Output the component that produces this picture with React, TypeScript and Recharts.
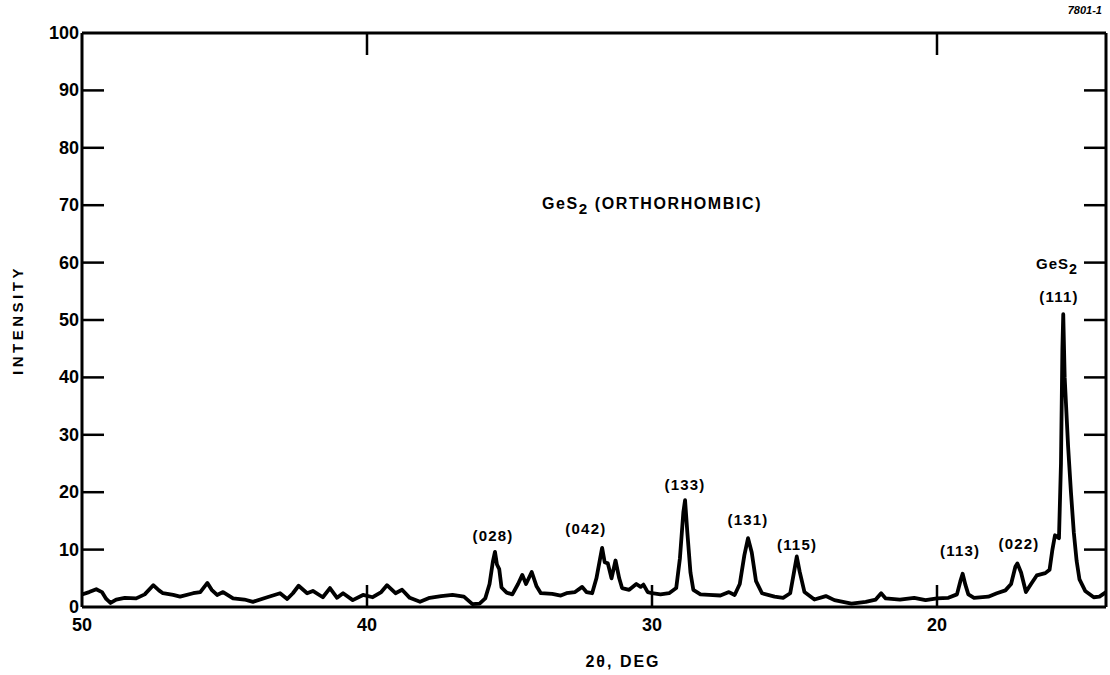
import React from "react";
import { LineChart, Line, XAxis, YAxis, ReferenceDot } from "recharts";

// 2-theta (deg) and intensity, high angle to low angle
const twoTheta = [
  50.0, 49.75, 49.5, 49.3, 49.15, 49.0, 48.8, 48.5, 48.1, 47.8, 47.5, 47.3, 47.16, 46.8, 46.56, 46.1,
  45.85, 45.6, 45.45, 45.26, 45.05, 44.7, 44.3, 44.0, 43.5, 43.05, 42.8, 42.6, 42.4, 42.1, 41.9, 41.55,
  41.3, 41.05, 40.84, 40.5, 40.14, 39.8, 39.5, 39.3, 39.0, 38.77, 38.5, 38.14, 37.8, 37.4, 37.0, 36.6,
  36.3, 36.05, 35.85, 35.7, 35.58, 35.51, 35.44, 35.36, 35.28, 35.1, 34.9, 34.7, 34.55, 34.42, 34.22,
  34.05, 33.9, 33.5, 33.2, 33.0, 32.7, 32.45, 32.3, 32.1, 31.95, 31.8, 31.75, 31.66, 31.55, 31.42,
  31.28, 31.15, 31.05, 30.8, 30.55, 30.4, 30.3, 30.15, 30.0, 29.7, 29.4, 29.15, 29.02, 28.9, 28.84,
  28.76, 28.65, 28.55, 28.3, 28.0, 27.6, 27.3, 27.1, 26.92, 26.76, 26.63, 26.5, 26.35, 26.14, 25.7,
  25.4, 25.15, 25.02, 24.92, 24.82, 24.65, 24.3, 23.9, 23.6, 23.0, 22.5, 22.15, 21.96, 21.8, 21.3,
  20.8, 20.4, 20.0, 19.6, 19.3, 19.18, 19.1, 19.0, 18.9, 18.7, 18.2, 17.9, 17.6, 17.4, 17.25, 17.18,
  17.05, 16.88, 16.7, 16.5, 16.2, 16.05, 15.95, 15.86, 15.72, 15.65, 15.6, 15.57, 15.52, 15.4, 15.3,
  15.2, 15.1, 15.0, 14.8, 14.5, 14.3, 14.07,
];
const intensity = [
  2.2, 2.6, 3.1, 2.6, 1.4, 0.7, 1.3, 1.6, 1.5, 2.2, 3.8, 2.9, 2.4, 2.1, 1.8, 2.4,
  2.6, 4.2, 3.0, 2.1, 2.6, 1.5, 1.3, 0.9, 1.7, 2.4, 1.4, 2.4, 3.7, 2.4, 2.8, 1.7,
  3.3, 1.6, 2.4, 1.2, 2.1, 1.7, 2.6, 3.8, 2.4, 3.0, 1.6, 0.9, 1.6, 1.9, 2.1, 1.8,
  0.5, 0.6, 1.5, 4.0, 8.0, 9.6, 7.4, 6.6, 3.4, 2.5, 2.2, 4.0, 5.6, 4.0, 6.1,
  3.6, 2.4, 2.3, 2.0, 2.4, 2.6, 3.5, 2.6, 2.4, 5.0, 9.0, 10.3, 7.8, 7.6, 5.0,
  8.1, 5.0, 3.3, 3.0, 4.0, 3.5, 3.9, 2.6, 2.4, 2.2, 2.4, 3.3, 8.5, 16.5, 18.6,
  13.0, 6.0, 3.0, 2.2, 2.1, 2.0, 2.6, 2.1, 4.0, 9.0, 12.0, 9.5, 4.5, 2.4, 1.8,
  1.6, 2.4, 6.0, 8.8, 6.2, 2.6, 1.3, 1.9, 1.2, 0.6, 0.9, 1.3, 2.4, 1.5, 1.3,
  1.6, 1.2, 1.5, 1.6, 2.2, 4.5, 5.8, 3.8, 2.2, 1.6, 1.8, 2.4, 2.9, 4.0, 7.0, 7.6,
  6.0, 2.6, 4.0, 5.5, 5.9, 6.5, 10.0, 12.5, 12.0, 25, 45, 51, 40, 28, 20,
  13, 8, 4.8, 2.8, 1.7, 1.8, 2.6,
];

const xTicks = [50, 40, 30, 20];
const topTicks = [40, 20];
const yTicks = [0, 10, 20, 30, 40, 50, 60, 70, 80, 90, 100];
const rightTicks = [10, 20, 30, 40, 50, 60, 70, 80, 90];

// peak labels: text, 2-theta, intensity where the label sits
const peakNames = ["(028)", "(042)", "(133)", "(131)", "(115)", "(113)", "(022)", "(111)"];
const peakLabelX = [35.58, 32.32, 28.84, 26.63, 24.91, 19.19, 17.12, 15.72];
const peakLabelY = [12.4, 13.6, 21.3, 15.2, 10.8, 9.9, 11.1, 54.0];

const data = twoTheta.map((x, i) => ({ x, y: intensity[i], r: intensity[i] }));

const FONT = "'Liberation Sans', Arial, Helvetica, sans-serif";
const TICK_LEN = 22;

const BottomTick = (props: any) => {
  const { x, y, payload } = props;
  return (
    <g>
      {payload.value !== 50 && (
        <line x1={x} y1={y} x2={x} y2={y - TICK_LEN} stroke="#000" strokeWidth={2.5} />
      )}
      <text x={x} y={y + 24} textAnchor="middle" fontSize={18} fontWeight="bold" fontFamily={FONT} fill="#000">
        {payload.value}
      </text>
    </g>
  );
};

const TopTick = (props: any) => {
  const { x, y } = props;
  return <line x1={x} y1={y} x2={x} y2={y + TICK_LEN} stroke="#000" strokeWidth={2.5} />;
};

const LeftTick = (props: any) => {
  const { x, y, payload } = props;
  const v = payload.value;
  return (
    <g>
      {v !== 0 && v !== 100 && (
        <line x1={x} y1={y} x2={x + TICK_LEN} y2={y} stroke="#000" strokeWidth={2.5} />
      )}
      <text x={x - 3} y={y + 6} textAnchor="end" fontSize={18} fontWeight="bold" fontFamily={FONT} fill="#000">
        {v}
      </text>
    </g>
  );
};

const RightTick = (props: any) => {
  const { x, y } = props;
  return <line x1={x} y1={y} x2={x - TICK_LEN} y2={y} stroke="#000" strokeWidth={2.5} />;
};

const textAt = (text: string, size: number) => (props: any) => {
  const vb = props.viewBox || {};
  const cx = (vb.x ?? 0) + (vb.width ?? 0) / 2;
  const cy = (vb.y ?? 0) + (vb.height ?? 0) / 2;
  return (
    <text x={cx} y={cy + size * 0.36} textAnchor="middle" fontSize={size} fontWeight="bold" fontFamily={FONT} letterSpacing={1.2} fill="#000">
      {text}
    </text>
  );
};

const gesAt = (suffix: string, size: number, spacing: number) => (props: any) => {
  const vb = props.viewBox || {};
  const cx = (vb.x ?? 0) + (vb.width ?? 0) / 2;
  const cy = (vb.y ?? 0) + (vb.height ?? 0) / 2;
  return (
    <text x={cx} y={cy + size * 0.36} textAnchor="middle" fontSize={size} fontWeight="bold" fontFamily={FONT} letterSpacing={spacing} fill="#000">
      GeS
      <tspan dy={size * 0.35} fontSize={size * 0.95}>2</tspan>
      {suffix && <tspan dy={-size * 0.35}>{suffix}</tspan>}
    </text>
  );
};

export default function App() {
  return (
    <div style={{ position: "absolute", left: 0, top: 0, width: 1110, height: 675, background: "#fff" }}>
      <LineChart width={1110} height={675} data={data} margin={{ top: 32, right: 0, bottom: 28, left: 22 }}>
        <XAxis
          dataKey="x"
          type="number"
          domain={[14.07, 50]}
          reversed
          allowDataOverflow
          ticks={xTicks}
          interval={0}
          tickSize={0}
          tickMargin={0}
          tickLine={false}
          tick={<BottomTick />}
          axisLine={{ stroke: "#000", strokeWidth: 3 }}
          height={40}
        />
        <XAxis
          xAxisId="top"
          dataKey="x"
          type="number"
          orientation="top"
          domain={[14.07, 50]}
          reversed
          allowDataOverflow
          ticks={topTicks}
          interval={0}
          tickSize={0}
          tickMargin={0}
          tickLine={false}
          tick={<TopTick />}
          axisLine={{ stroke: "#000", strokeWidth: 3 }}
          height={1}
        />
        <YAxis
          type="number"
          domain={[0, 100]}
          ticks={yTicks}
          interval={0}
          tickSize={0}
          tickMargin={0}
          tickLine={false}
          tick={<LeftTick />}
          axisLine={{ stroke: "#000", strokeWidth: 3 }}
          width={60}
          label={{
            value: "INTENSITY",
            angle: -90,
            position: "insideLeft",
            offset: -4,
            style: {
              fontSize: 15,
              fontWeight: "bold",
              fontFamily: FONT,
              fill: "#000",
              textAnchor: "middle",
              letterSpacing: 3.5,
            },
          }}
        />
        <YAxis
          yAxisId="right"
          orientation="right"
          type="number"
          dataKey="r"
          domain={[0, 100]}
          allowDataOverflow
          ticks={rightTicks}
          interval={0}
          tickSize={0}
          tickMargin={0}
          tickLine={false}
          tick={<RightTick />}
          axisLine={{ stroke: "#000", strokeWidth: 3 }}
          width={4}
        />
        <Line
          type="linear"
          dataKey="y"
          stroke="#000"
          strokeWidth={3.8}
          strokeLinejoin="round"
          dot={false}
          isAnimationActive={false}
        />
        {peakNames.map((name, i) => (
          <ReferenceDot
            key={name}
            x={peakLabelX[i]}
            y={peakLabelY[i]}
            r={1}
            fill="none"
            stroke="none"
            label={textAt(name, 15)}
          />
        ))}
        <ReferenceDot x={15.79} y={59.9} r={1} fill="none" stroke="none" label={gesAt("", 15, 1)} />
        <ReferenceDot x={30} y={70.4} r={1} fill="none" stroke="none" label={gesAt("  (ORTHORHOMBIC)", 16, 1.6)} />
      </LineChart>
      <div
        style={{
          position: "absolute",
          left: 0,
          top: 653,
          width: 1246,
          textAlign: "center",
          fontFamily: FONT,
          fontWeight: "bold",
          fontSize: 16,
          letterSpacing: 2,
        }}
      >
        2θ, DEG
      </div>
      <div
        style={{
          position: "absolute",
          right: 8,
          top: 4,
          fontFamily: FONT,
          fontWeight: "bold",
          fontStyle: "italic",
          fontSize: 11,
        }}
      >
        7801-1
      </div>
    </div>
  );
}
